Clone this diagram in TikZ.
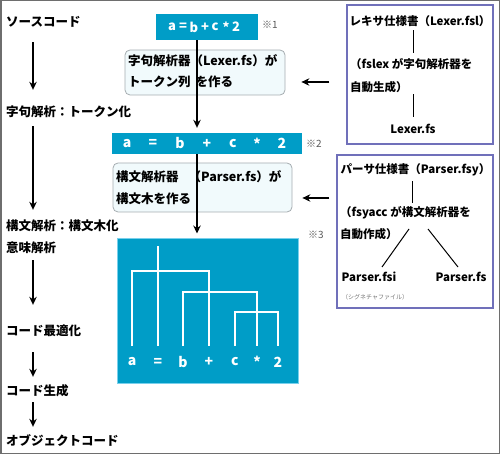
\documentclass[tikz,border=0pt]{standalone}
\usepackage{fontspec}
\setmainfont{Noto Sans CJK JP}
\usepackage{xcolor}
\usepackage{tikz}
\usetikzlibrary{arrows.meta}
\definecolor{codebg}{RGB}{0,157,199}
\definecolor{treeline}{RGB}{120,208,236}
\definecolor{memobg}{RGB}{241,250,252}
\definecolor{memoline}{RGB}{165,172,176}
\definecolor{specline}{RGB}{112,112,186}
\definecolor{frameline}{RGB}{110,110,110}

\begin{document}
\begin{tikzpicture}[x=1pt,y=-1pt,>={Stealth[length=8pt,width=7.5pt]},font=\bfseries\fontsize{12.5}{15}\selectfont,
  lbl/.style={anchor=west,inner sep=0pt,text height=9pt,text depth=2pt},
  mid/.style={inner sep=0pt,text height=9pt,text depth=2pt},
  spectext/.style={font=\bfseries\fontsize{11.5}{14}\selectfont},
  sym/.style={inner sep=0pt,text=white,font=\bfseries\fontsize{14}{16}\selectfont},
  flow/.style={->,line width=1.1pt},
  tok/.style={fill=codebg,text=white,inner sep=0pt},
  memo/.style={draw=memoline,fill=memobg,rounded corners=5pt,line width=0.8pt},
  spec/.style={draw=specline,line width=1.2pt,fill=white},
  tree/.style={white,line width=1.4pt},
  note/.style={anchor=west,inner sep=0pt,font=\mdseries\fontsize{10}{12}\selectfont,text=black!65}]
\useasboundingbox (0,0) rectangle (500,454);
\draw[frameline,line width=1.5pt] (0.75,0.75) rectangle (499.25,453.25);
\coordinate (ax) at (33,0);
\coordinate (fx) at (197,0);
\node[lbl] (src) at (6,23) {ソースコード};
\node[lbl] (lex) at (6,113) {字句解析：トークン化};
\node[lbl] (syn) at (6,227) {構文解析：構文木化};
\node[lbl] (sem) at (6,249) {意味解析};
\node[lbl] (opt) at (6,332) {コード最適化};
\node[lbl] (gen) at (6,392) {コード生成};
\node[lbl] (obj) at (6,442) {オブジェクトコード};
\draw[flow,shorten <=13.5pt,shorten >=17.5pt] (src.south -| ax) -- (lex.north -| ax);
\draw[flow,shorten <=7.5pt,shorten >=11.5pt] (lex.south -| ax) -- (syn.north -| ax);
\draw[flow,shorten <=5.5pt,shorten >=21.5pt] (sem.south -| ax) -- (opt.north -| ax);
\draw[flow,shorten <=14.5pt,shorten >=9.5pt] (opt.south -| ax) -- (gen.north -| ax);
\draw[flow,shorten <=4.5pt,shorten >=9.5pt] (gen.south -| ax) -- (obj.north -| ax);

\node[tok,minimum width=102pt,minimum height=26pt] (tok1) at (207,27) {};
\foreach \x/\s [count=\i] in {172/a,183/=,194/b,205/+,215/c,226/*,236/2}
  \node[sym,font=\bfseries\fontsize{13}{15}\selectfont] (e\i) at (\x,27) {\s};
\node[note] (n1) at (262,25) {※1};
\node[memo,minimum width=160pt,minimum height=45pt] (lexbox) at (205,72.5) {};
\node[lbl] (lexa) at (128,62) {字句解析器（Lexer.fs）が};
\node[lbl] (lexb) at (128,83) {トークン列\hspace{5pt}を作る};
\node[tok,minimum width=190pt,minimum height=21pt] (tok2) at (207,143.5) {};
\foreach \x/\s [count=\i] in {127/a,153/=,180/b,207/+,233/c,257/*,282/2}
  \node[sym] (s\i) at (\x,143.5) {\s};
\node[note] (n2) at (306,144) {※2};
\draw[flow,shorten >=5pt] (tok1.south -| fx) -- (tok2.north -| fx);
\node[memo,minimum width=179pt,minimum height=49pt] (synbox) at (202.5,187.5) {};
\node[lbl] (syna) at (116,178) {構文解析器\hspace{10pt}（Parser.fs）が};
\node[lbl] (synb) at (116,200) {構文木を作る};
\node[tok,draw=treeline,line width=1pt,minimum width=181pt,minimum height=145pt] (tree) at (207.5,310.5) {};
\draw[flow,shorten >=4pt] (tok2.south -| fx) -- (tree.north -| fx);
\node[note] (n3) at (308,235) {※3};
\foreach \x/\s [count=\i] in {132/a,158/=,183/b,209/+,235/c,257/*,278/2}{
  \node[sym] (t\i) at (\x,362) {\s};
  \coordinate (l\i) at (\x,346);
}
\draw[tree] (l1) |- (l4 |- 0,271) -- (l4);
\draw[tree] (l2) -- (l2 |- 0,246);
\draw[tree] (l3) |- (l6 |- 0,292) -- (l6);
\draw[tree] (l5) |- (l7 |- 0,312) -- (l7);

\node[spec,minimum width=146pt,minimum height=139pt] (lexspec) at (420,74.5) {};
\node[mid,spectext] (lexa1) at (420,22) {レキサ仕様書（Lexer.fsl）};
\node[lbl,spectext] (lexb1) at (350,65) {（fslex が字句解析器を};
\node[lbl,spectext] (lexb2) at (350,88) {自動生成）};
\node[mid,spectext] (lexc1) at (413,130) {Lexer.fs};
\draw[line width=1pt,shorten <=2.5pt,shorten >=6.5pt] (lexa1.south -| lexc1) -- (lexb1.north -| lexc1);
\draw[line width=1pt,shorten <=0.5pt,shorten >=7.5pt] (lexb2.south -| lexc1) -- (lexc1.north);
\draw[flow,shorten <=17pt,shorten >=16pt] (lexspec.west |- 0,82) -- (lexbox.east |- 0,82);

\node[spec,minimum width=156pt,minimum height=153pt] (parspec) at (415,231.5) {};
\node[mid,spectext] (para1) at (415.5,170) {パーサ仕様書（Parser.fsy）};
\node[lbl,spectext] (parb1) at (340,213) {（fsyacc が構文解析器を};
\node[lbl,spectext] (parb2) at (340,235) {自動作成）};
\node[mid,spectext] (parfsi) at (369,278) {Parser.fsi};
\node[mid,spectext] (parfs) at (461,278) {Parser.fs};
\node[anchor=west,inner sep=0pt,font=\mdseries\fontsize{6}{7}\selectfont,text=black!55] (parnote) at (342,297) {（シグネチャファイル）};
\coordinate (pf1) at (409,229);
\coordinate (pf2) at (382,267);
\coordinate (pf3) at (428,229);
\coordinate (pf4) at (458,267);
\draw[line width=1pt,shorten <=5.5pt,shorten >=4.5pt] (para1.south -| 412,0) -- (parb1.north -| 412,0);
\draw[line width=1pt] (pf1) -- (pf2);
\draw[line width=1pt] (pf3) -- (pf4);
\draw[flow,shorten <=7pt,shorten >=10pt] (parspec.west |- 0,198) -- (synbox.east |- 0,198);
\end{tikzpicture}
\end{document}
